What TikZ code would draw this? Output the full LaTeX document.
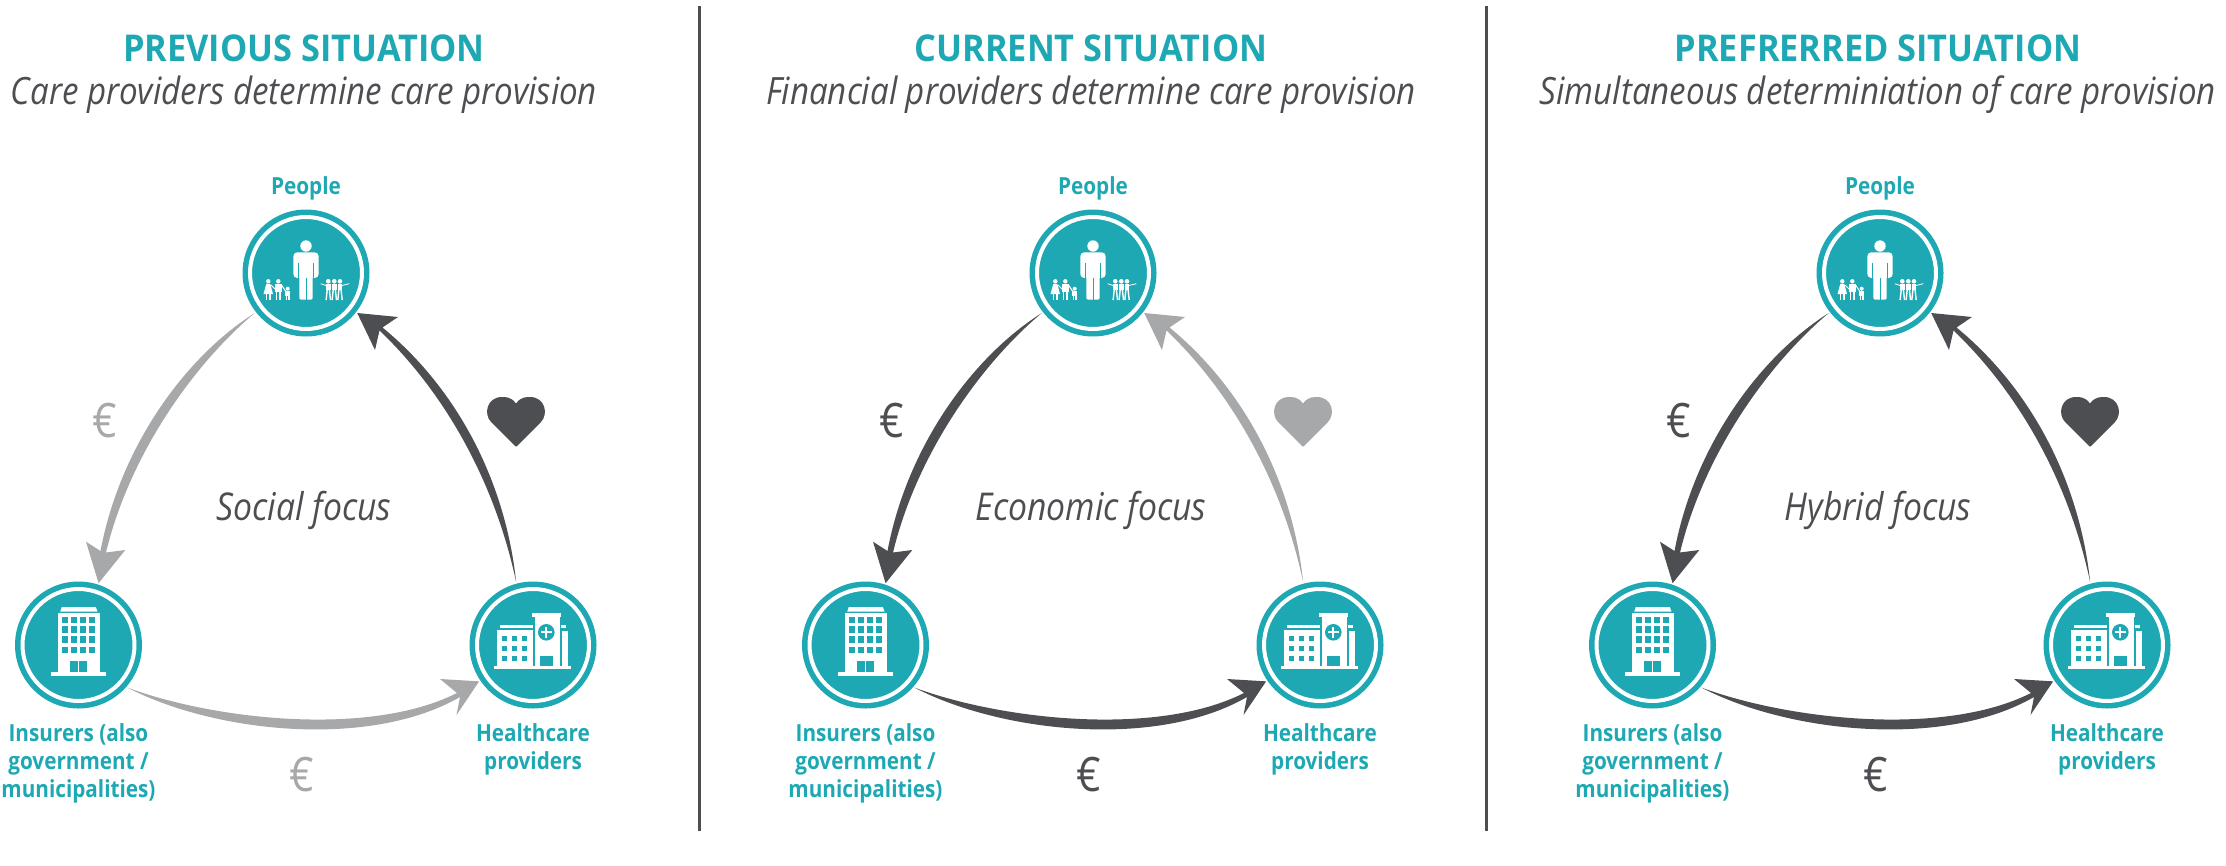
\documentclass[tikz,border=0pt]{standalone}
\usepackage{fontspec}
\setmainfont[FakeStretch=0.88]{Open Sans}
\newfontfamily\headfont[FakeStretch=0.93]{Open Sans}
\definecolor{tealc}{HTML}{1DA8B3}
\definecolor{darkc}{HTML}{4D4E52}
\definecolor{grayc}{HTML}{A7A8AA}
\tikzset{
    station/.style={circle, fill=tealc, minimum size=127*0.1mm, inner sep=0, outer sep=0.15mm},
    ringline/.style={white, line width=0.4mm},
    who/.style={text=tealc, font=\fontsize{6.7}{8}\selectfont\bfseries, align=center, inner sep=0},
    headline/.style={text=tealc, font=\fontsize{10.5}{12}\selectfont\headfont\bfseries, anchor=base, inner sep=0},
    subline/.style={text=darkc, font=\fontsize{10.7}{12}\selectfont\itshape, anchor=base, inner sep=0},
    focusline/.style={text=darkc, font=\fontsize{10.9}{12}\selectfont\itshape, anchor=base, inner sep=0},
    eurosign/.style={font=\fontsize{13.5}{14}\selectfont, anchor=base, inner sep=0},
    pics/crowd/.style={code={
        \fill[white] (0,-27) circle (5.7);
        \fill[white, rounded corners=0.4mm] (-12.7,-20.7) rectangle (12.7,5);
        \fill[white, rounded corners=0.2mm] (-6.7,0) rectangle (6.7,26.7);
        \draw[tealc, line width=0.1mm] (-7.5,-10) -- (-7.5,6) (7.5,-10) -- (7.5,6) (0,5) -- (0,27);
        \foreach \ax in {-37.7,-27.7} \fill[white] (\ax,8.3) circle (2.2);
        \fill[white] (-39.7,10.8) -- (-35.7,10.8) -- (-33,21) -- (-42.5,21) -- cycle;
        \draw[white, line width=0.13mm] (-39.5,21) -- (-39.5,27) (-36,21) -- (-36,27);
        \fill[white] (-31,10.8) rectangle (-24.5,19);
        \draw[white, line width=0.14mm] (-29.5,18) -- (-29.5,27) (-26,18) -- (-26,27);
        \draw[white, line width=0.1mm] (-35,12) -- (-31,16) (-24.5,12) -- (-20.5,18);
        \fill[white] (-18.3,15.7) circle (2);
        \fill[white] (-20.8,18.2) rectangle (-15.8,23);
        \draw[white, line width=0.12mm] (-19.5,22) -- (-19.5,27) (-17,22) -- (-17,27);
        \foreach \gx in {22.3,28.3,34} {
            \fill[white] (\gx,8.3) circle (2.3);
            \fill[white] (\gx-2.4,11) rectangle (\gx+2.4,17);
            \draw[white, line width=0.14mm] (\gx-1,16) -- (\gx-2.2,27) (\gx+1,16) -- (\gx+2.2,27);
        }
        \draw[white, line width=0.08mm] (14.7,10.7) -- (20,12.5) (43.3,10.7) -- (36,12.5);
    }},
    pics/tower/.style={code={
        \fill[white] (-18.3,-33.3) -- (-16.7,-38) -- (17.3,-38) -- (19,-33.3) -- cycle;
        \fill[white] (-21,-32) rectangle (21.7,26.7);
        \fill[white] (-27.7,26.7) rectangle (27.3,30.7);
        \foreach \wx in {-17,-8,1,10} \foreach \wy in {-28.3,-19,-9,1.7}
            \fill[tealc] (\wx,\wy) rectangle ++(6.5,6.5);
        \fill[tealc] (-8.3,15.7) rectangle (8.3,26.7);
        \draw[white, line width=0.1mm] (0,15.7) -- (0,26.7);
    }},
    pics/clinic/.style={code={
        \fill[white] (-38.7,21) rectangle (38,23.7);
        \fill[white] (-35.7,-15) rectangle (0.3,21);
        \fill[white] (-33,-20) rectangle (0.3,-16.7);
        \fill[white] (2,-28) rectangle (27,21);
        \fill[white] (-0.7,-32) rectangle (28,-28.3);
        \fill[white] (28.7,-14) rectangle (35.3,21);
        \fill[white] (27.7,-20) rectangle (33,-16.7);
        \foreach \wx in {-30.7,-20.7,-10.7} \foreach \wy in {-9,1,11}
            \fill[tealc] (\wx,\wy) rectangle ++(5,5);
        \fill[tealc] (7.3,10.7) rectangle (20.3,21);
        \fill[tealc] (13.3,-12.7) circle (8.3);
        \draw[white, line width=0.2mm] (13.3,-18) -- (13.3,-7.4) (8,-12.7) -- (18.6,-12.7);
    }}
}

\begin{document}
\begin{tikzpicture}[x=0.1mm, y=-0.1mm]
    \useasboundingbox (0,0) rectangle (2226,865);

    \coordinate (sep1a) at (699,6);
    \coordinate (sep1b) at (699,831);
    \coordinate (sep2a) at (1486,6);
    \coordinate (sep2b) at (1486,831);
    \draw[darkc, line width=0.3mm] (sep1a) -- (sep1b);
    \draw[darkc, line width=0.3mm] (sep2a) -- (sep2b);

    \foreach \p/\dx/\head/\sub/\focus/\payA/\payB/\careC in {
        1/0/PREVIOUS SITUATION/Care providers determine care provision/Social focus/grayc/grayc/darkc,
        2/787/CURRENT SITUATION/Financial providers determine care provision/Economic focus/darkc/darkc/grayc,
        3/1574/PREFRERRED SITUATION/Simultaneous determiniation of care provision/Hybrid focus/darkc/darkc/darkc} {
    \begin{scope}[shift={(\dx,0)}]
        \node[headline] (head\p) at (304,61.5) {\head};
        \node[subline] (sub\p) at (304,104.5) {\sub};
        \node[focusline] (focus\p) at (304,520) {\focus};

        \node[station] (people\p) at (306,273) {};
        \node[station] (insurer\p) at (78.5,645) {};
        \node[station] (care\p) at (533,645) {};
        \draw[ringline] (people\p) circle (56);
        \draw[ringline] (insurer\p) circle (56);
        \draw[ringline] (care\p) circle (56);
        \pic at (people\p) {crowd};
        \pic at (insurer\p) {tower};
        \pic at (care\p) {clinic};

        \node[who] (peopletxt\p) at (306,188) {People};
        \node[who, anchor=north] (insurertxt\p) at (78.5,723) {Insurers (also\\government /\\municipalities)};
        \node[who, anchor=north] (caretxt\p) at (533,723) {Healthcare\\providers};

        \fill[\payA] (people\p.218) .. controls (195,363) and (130,453) .. (106,552.5)
            -- (125.3,550) -- (insurer\p.72) -- (86,541.7) -- (100.5,551)
            .. controls (120,447) and (185,357) .. (people\p.218) -- cycle;
        \fill[\payB] (insurer\p.-41.6) .. controls (215,720) and (370,737) .. (457,693)
            -- (440,679) -- (care\p.-146) -- (456.5,715) -- (460,697)
            .. controls (370,749) and (215,733) .. (insurer\p.-41.6) -- cycle;
        \fill[\careC] (care\p.105) .. controls (495,482) and (445,393) .. (379.5,330.5)
            -- (375,350) -- (people\p.-38) -- (398,317) -- (382.5,327.5)
            .. controls (455,387) and (505,478) .. (care\p.105) -- cycle;

        \node[eurosign, text=\payA] (euroA\p) at (105,437) {€};
        \node[eurosign, text=\payB] (euroB\p) at (302,791) {€};

        \fill[\careC, rounded corners=0.1mm] (516,447) -- (492,423) .. controls (483,414) and (487,397) .. (503,397)
            .. controls (509,397) and (514,400) .. (516,404) .. controls (518,400) and (523,397) .. (529,397)
            .. controls (545,397) and (549,414) .. (540,423) -- cycle;
    \end{scope}
    }
\end{tikzpicture}
\end{document}
